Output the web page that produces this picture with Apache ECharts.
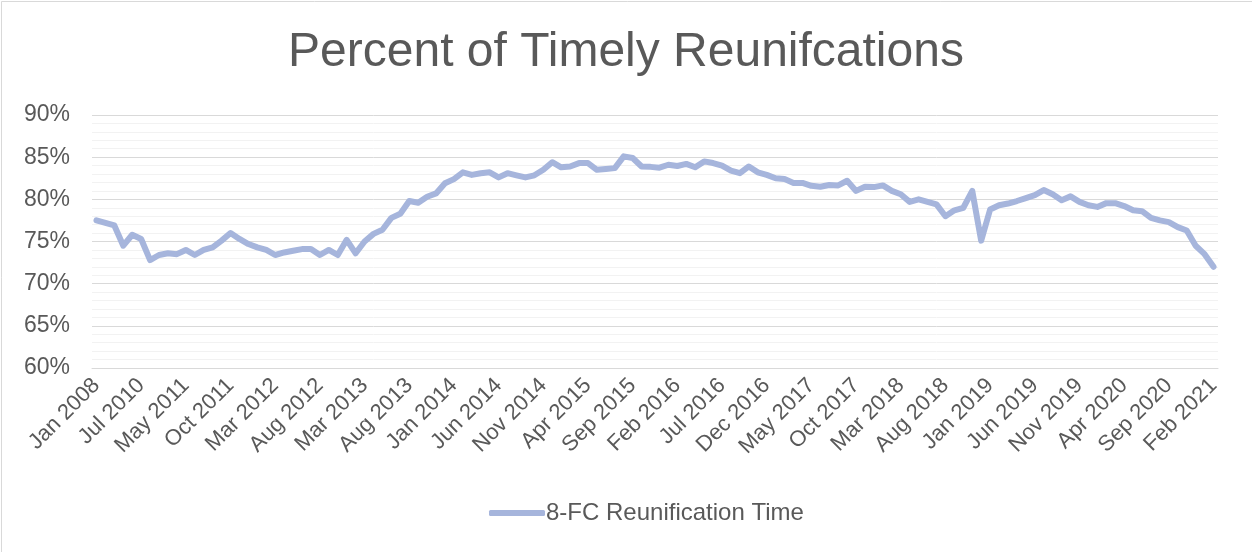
<!DOCTYPE html>
<html lang="en">
<head>
    <meta charset="UTF-8">
    <title>Percent of Timely Reunifcations</title>
    <script src="https://cdn.jsdelivr.net/npm/echarts@6/dist/echarts.min.js"></script>
    <style>
        html, body { margin: 0; padding: 0; background: #fff; }
        #chart { width: 1252px; height: 552px; }
    </style>
</head>
<body>
<div id="chart"></div>
<script>
    // early months are irregular, monthly from Apr 2013 on
    var earlyMonths = ['Jan 2008', 'Jul 2008', 'Jan 2009', 'Jul 2009', 'Jan 2010', 'Jul 2010',
        'Sep 2010', 'Nov 2010', 'Jan 2011', 'Mar 2011', 'May 2011', 'Jun 2011', 'Jul 2011',
        'Aug 2011', 'Sep 2011', 'Oct 2011', 'Nov 2011', 'Dec 2011', 'Jan 2012', 'Feb 2012',
        'Mar 2012', 'Apr 2012', 'May 2012', 'Jun 2012', 'Jul 2012', 'Aug 2012', 'Oct 2012',
        'Nov 2012', 'Dec 2012', 'Feb 2013', 'Mar 2013'];
    var monthNames = ['Jan', 'Feb', 'Mar', 'Apr', 'May', 'Jun', 'Jul', 'Aug', 'Sep', 'Oct', 'Nov', 'Dec'];

    var categories = earlyMonths.slice();
    for (var y = 2013, m = 3; y < 2021 || (y === 2021 && m <= 1); m++) {
        if (m > 11) { m = 0; y++; if (y === 2021 && m > 1) break; }
        categories.push(monthNames[m] + ' ' + y);
    }

    // 8-FC Reunification Time, percent
    var reunification = [
        77.5, 77.2, 76.9, 74.5, 75.8, 75.3, 72.8, 73.4, 73.6, 73.5,
        74.0, 73.4, 74.0, 74.3, 75.1, 76.0, 75.3, 74.7, 74.3, 74.0,
        73.4, 73.7, 73.9, 74.1, 74.1, 73.4, 74.0, 73.4, 75.2, 73.6,
        75.0, 75.9, 76.4, 77.8, 78.3, 79.8, 79.6, 80.3, 80.7, 81.9,
        82.4, 83.2, 82.9, 83.1, 83.2, 82.6, 83.1, 82.85, 82.6, 82.85,
        83.5, 84.4, 83.8, 83.9, 84.3, 84.3, 83.5, 83.6, 83.7, 85.1,
        84.9, 83.9, 83.85, 83.75, 84.1, 83.95, 84.2, 83.8, 84.5, 84.3,
        84.0, 83.4, 83.1, 83.9, 83.2, 82.9, 82.5, 82.4, 81.95, 81.95,
        81.6, 81.5, 81.7, 81.65, 82.2, 81.0, 81.5, 81.45, 81.65, 81.0,
        80.6, 79.7, 80.0, 79.7, 79.4, 78.0, 78.7, 79.0, 81.0, 75.1,
        78.8, 79.3, 79.5, 79.8, 80.15, 80.5, 81.1, 80.6, 79.9, 80.35,
        79.7, 79.3, 79.1, 79.55, 79.55, 79.2, 78.7, 78.6, 77.8, 77.5,
        77.3, 76.7, 76.3, 74.5, 73.5, 72.0
    ];

    var chart = echarts.init(document.getElementById('chart'));
    var font = "'Liberation Sans', Arial, sans-serif";
    var grey = '#595959';
    var lineColor = '#a6b5dc';

    chart.setOption({
        backgroundColor: '#ffffff',
        animation: false,
        textStyle: { fontFamily: font },
        graphic: [{
            type: 'rect',
            shape: { x: 1.5, y: 1.5, width: 1300, height: 600 },
            style: { fill: 'none', stroke: '#d9d9d9', lineWidth: 1 },
            silent: true
        }],
        title: {
            text: 'Percent of Timely Reunifcations',
            left: 'center',
            top: 24,
            textStyle: { fontFamily: font, fontSize: 48, fontWeight: 'normal', color: grey }
        },
        legend: {
            left: 484,
            top: 496,
            icon: 'roundRect',
            itemWidth: 56,
            itemHeight: 6,
            itemGap: 4,
            itemStyle: { color: lineColor },
            textStyle: { fontFamily: font, fontSize: 24, color: grey, padding: [0, 0, 0, -4] },
            data: ['8-FC Reunification Time']
        },
        grid: { left: 92, right: 34, top: 115, bottom: 184, containLabel: false },
        xAxis: {
            type: 'category',
            data: categories,
            boundaryGap: true,
            axisLine: { lineStyle: { color: '#d9d9d9' } },
            axisTick: { show: false },
            axisLabel: {
                interval: 4,
                rotate: 45,
                margin: 14,
                fontFamily: font,
                fontSize: 22,
                color: grey
            }
        },
        yAxis: {
            type: 'value',
            min: 60,
            max: 90,
            interval: 5,
            axisLine: { show: false },
            axisTick: { show: false },
            axisLabel: {
                formatter: '{value}%',
                margin: 22,
                fontFamily: font,
                fontSize: 23,
                color: grey
            },
            splitLine: { lineStyle: { color: '#d9d9d9', width: 1 } },
            minorTick: { show: false, splitNumber: 5 },
            minorSplitLine: { show: true, lineStyle: { color: '#f2f2f2', width: 1 } }
        },
        series: [{
            name: '8-FC Reunification Time',
            type: 'line',
            data: reunification,
            showSymbol: false,
            symbol: 'none',
            lineStyle: { color: lineColor, width: 6, cap: 'round', join: 'round' },
            itemStyle: { color: lineColor }
        }]
    });

    window.addEventListener('resize', function () {
        chart.resize();
    });
</script>
</body>
</html>
